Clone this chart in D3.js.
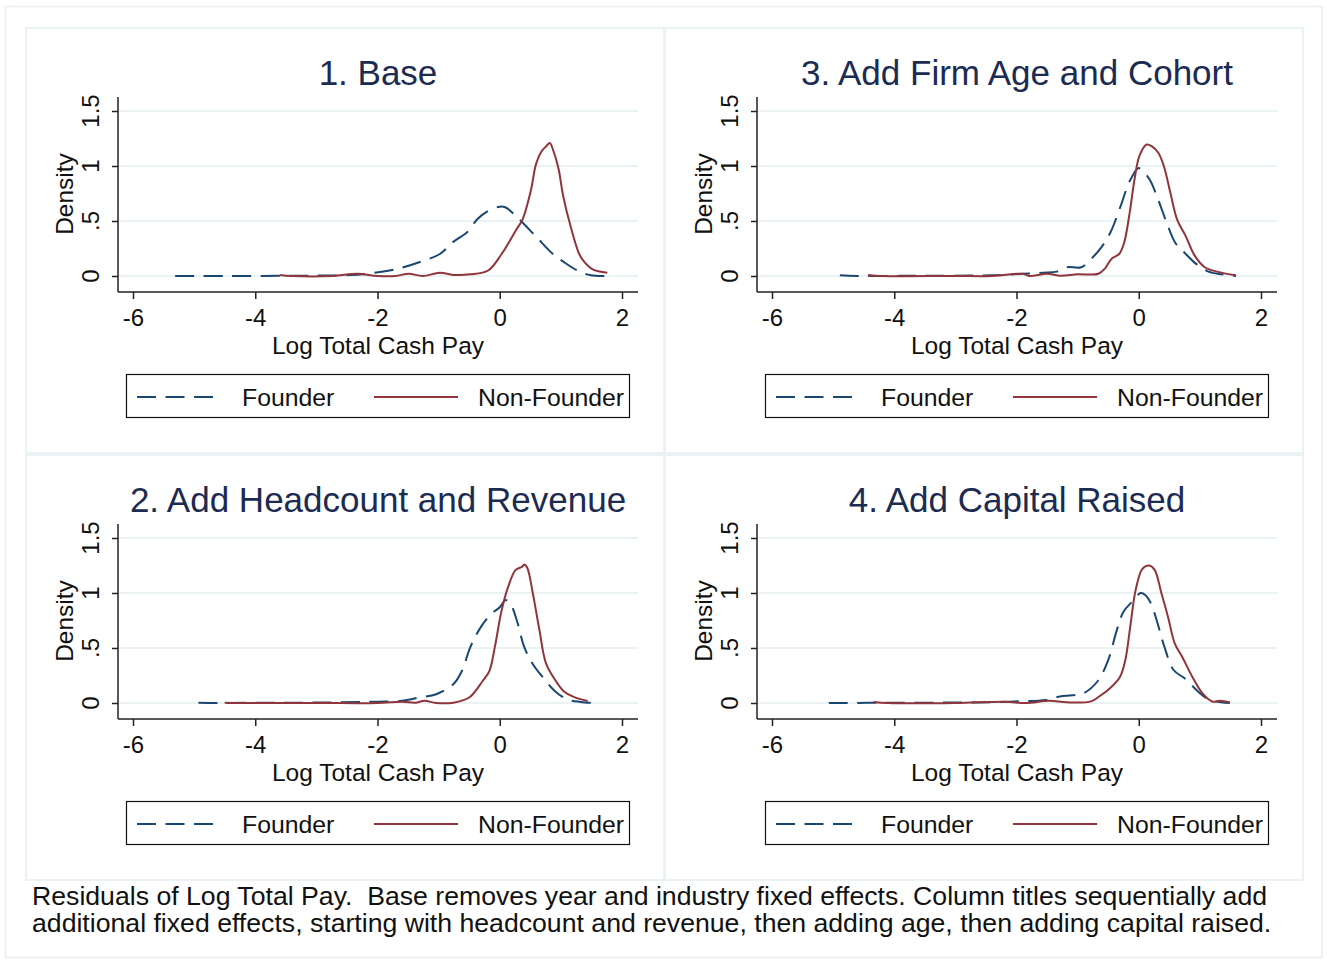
<!DOCTYPE html>
<html>
<head>
<meta charset="utf-8">
<script src="https://cdn.jsdelivr.net/npm/d3@7"></script>
<style>
  html, body { margin: 0; padding: 0; background: #ffffff; }
  svg { display: block; font-family: "Liberation Sans", Arial, Helvetica, sans-serif; }
  text { white-space: pre; }
</style>
</head>
<body>
<svg id="chart" width="1327" height="963"></svg>
<script>
// Kernel density estimates of residual log total cash pay, [x, density] pairs
const founderBase = [[-5.31,0],[-4.5,0],[-3.5,0.002],[-2.9,0.004],[-2.44,0.008],[-2.19,0.02],[-1.71,0.06],[-1.29,0.13],[-0.98,0.2],[-0.76,0.31],[-0.53,0.4],[-0.36,0.52],[-0.19,0.59],[0,0.63],[0.09,0.625],[0.31,0.52],[0.59,0.36],[0.87,0.2],[1.04,0.13],[1.27,0.05],[1.49,0.006],[1.75,0]];
const nonFounderBase = [[-3.6,0.01],[-3.4,0],[-2.73,0],[-2.33,0.02],[-2.0,0],[-1.71,0],[-1.49,0.02],[-1.26,0],[-0.98,0.03],[-0.76,0.01],[-0.48,0.015],[-0.19,0.05],[0.03,0.2],[0.28,0.43],[0.37,0.51],[0.51,0.78],[0.59,1.01],[0.68,1.13],[0.76,1.18],[0.82,1.21],[0.87,1.15],[0.96,0.98],[1.04,0.72],[1.16,0.45],[1.3,0.2],[1.38,0.13],[1.52,0.06],[1.76,0.03]];

const founderHeadcount = [[-4.93,0.003],[-4.61,0],[-4.0,0.002],[-3.0,0.004],[-1.99,0.012],[-1.6,0.02],[-1.32,0.05],[-1.04,0.08],[-0.76,0.17],[-0.62,0.29],[-0.48,0.51],[-0.31,0.69],[-0.14,0.81],[0,0.87],[0.09,0.935],[0.17,0.905],[0.28,0.75],[0.4,0.51],[0.54,0.355],[0.71,0.23],[0.9,0.11],[1.1,0.034],[1.32,0.01],[1.55,0]];
const nonFounderHeadcount = [[-4.5,0.003],[-4.24,0],[-3.0,0],[-2.0,0],[-1.6,0.012],[-1.38,0.003],[-1.23,0.02],[-1.04,0],[-0.76,0.003],[-0.5,0.05],[-0.28,0.2],[-0.17,0.29],[-0.08,0.51],[0.03,0.84],[0.14,1.06],[0.26,1.21],[0.37,1.24],[0.4,1.26],[0.45,1.23],[0.54,1.0],[0.65,0.66],[0.76,0.355],[0.93,0.19],[1.04,0.11],[1.21,0.055],[1.44,0.018]];

const founderAge = [[-4.89,0.006],[-4.6,0],[-3.5,0.003],[-2.4,0.006],[-1.9,0.02],[-1.56,0.03],[-1.34,0.04],[-1.17,0.08],[-0.94,0.08],[-0.77,0.16],[-0.6,0.27],[-0.46,0.4],[-0.3,0.63],[-0.15,0.86],[-0.01,0.98],[0.04,0.97],[0.18,0.875],[0.32,0.69],[0.46,0.48],[0.6,0.3],[0.77,0.2],[0.94,0.11],[1.14,0.04],[1.36,0.015],[1.59,0]];
const nonFounderAge = [[-4.43,0.01],[-4.21,0],[-3.0,0],[-2.4,0],[-1.9,0.02],[-1.79,0],[-1.5,0.02],[-1.28,0.003],[-1.0,0.015],[-0.66,0.02],[-0.55,0.07],[-0.44,0.16],[-0.32,0.2],[-0.24,0.3],[-0.15,0.57],[-0.07,0.875],[0.01,1.09],[0.13,1.195],[0.21,1.18],[0.32,1.12],[0.41,1.0],[0.52,0.75],[0.63,0.51],[0.77,0.36],[0.91,0.19],[1.08,0.08],[1.28,0.04],[1.59,0.006]];

const founderCapital = [[-5.07,0],[-4.0,0.002],[-3.0,0.004],[-2.42,0.006],[-1.97,0.015],[-1.52,0.027],[-1.29,0.06],[-1.09,0.07],[-0.9,0.09],[-0.67,0.2],[-0.5,0.39],[-0.36,0.66],[-0.25,0.83],[-0.11,0.92],[0.03,1.0],[0.11,0.98],[0.2,0.905],[0.31,0.72],[0.42,0.51],[0.57,0.3],[0.76,0.22],[0.96,0.11],[1.13,0.037],[1.35,0.006],[1.49,0]];
const nonFounderCapital = [[-4.34,0.01],[-4.1,0],[-3.0,0],[-2.19,0.012],[-1.85,0],[-1.46,0.02],[-1.18,0.006],[-0.78,0.015],[-0.62,0.07],[-0.48,0.13],[-0.31,0.235],[-0.22,0.39],[-0.14,0.69],[-0.05,1.03],[0.06,1.22],[0.17,1.25],[0.26,1.21],[0.37,1.0],[0.48,0.78],[0.59,0.54],[0.71,0.42],[0.88,0.235],[1.04,0.09],[1.21,0.012],[1.33,0.02],[1.49,0.006]];

const panelTitles = ["1. Base", "3. Add Firm Age and Cohort", "2. Add Headcount and Revenue", "4. Add Capital Raised"];
const founderSeries = [founderBase, founderAge, founderHeadcount, founderCapital];
const nonFounderSeries = [nonFounderBase, nonFounderAge, nonFounderHeadcount, nonFounderCapital];
const seriesNames = ["Founder", "Non-Founder"];
const xTicks = [-6, -4, -2, 0, 2];
const yTicks = [0, 0.5, 1, 1.5];
const yTickLabels = ["0", ".5", "1", "1.5"];
const xTitle = "Log Total Cash Pay";
const yTitle = "Density";
const noteLines = [
  "Residuals of Log Total Pay.  Base removes year and industry fixed effects. Column titles sequentially add",
  "additional fixed effects, starting with headcount and revenue, then adding age, then adding capital raised."
];

const navy = "#1a476f", maroon = "#90353b", grid = "#eaf2f3", titleColor = "#1c2b52";
const svg = d3.select("#chart");

// outer frame
svg.append("rect").attr("x", 5.5).attr("y", 6.5).attr("width", 1316.5).attr("height", 951)
  .attr("fill", "#fff").attr("stroke", "#e6eef0").attr("stroke-width", 1.5);

// panel offsets (column, row)
const offsets = [[0, 0], [639, 0], [0, 427], [639, 427]];

const x = d3.scaleLinear().domain([-6, 2]).range([133, 622]);
const y = d3.scaleLinear().domain([0, 1.5]).range([276, 111]);
const line = d3.line().x(d => x(d[0])).y(d => y(d[1])).curve(d3.curveCatmullRom.alpha(0.5));

offsets.forEach((off, i) => {
  const g = svg.append("g").attr("transform", `translate(${off[0]},${off[1]})`);

  g.append("rect").attr("x", 26).attr("y", 28).attr("width", 638).attr("height", 425)
    .attr("fill", "none").attr("stroke", grid).attr("stroke-width", 2);

  g.append("text").attr("x", 378).attr("y", 85).attr("text-anchor", "middle")
    .attr("font-size", 35).attr("fill", titleColor).text(panelTitles[i]);

  // horizontal gridlines
  g.selectAll(".grid").data(yTicks).join("line")
    .attr("x1", 118).attr("x2", 638)
    .attr("y1", d => y(d)).attr("y2", d => y(d))
    .attr("stroke", grid).attr("stroke-width", 2);

  // density curves
  g.append("path").datum(founderSeries[i]).attr("d", line)
    .attr("fill", "none").attr("stroke", navy).attr("stroke-width", 2)
    .attr("stroke-dasharray", "19,9.5");
  g.append("path").datum(nonFounderSeries[i]).attr("d", line)
    .attr("fill", "none").attr("stroke", maroon).attr("stroke-width", 2);

  // y axis
  const ya = g.append("g").attr("transform", "translate(118,0)")
    .call(d3.axisLeft(y).tickValues(yTicks).tickSize(6).tickFormat(""));
  ya.select(".domain").attr("d", "M0,97V292").attr("stroke", "#222").attr("stroke-width", 1.5);
  ya.selectAll(".tick line").attr("stroke", "#222").attr("stroke-width", 1.5);
  yTicks.forEach((t, k) => {
    g.append("text").attr("transform", `translate(99,${y(t)}) rotate(-90)`)
      .attr("text-anchor", "middle").attr("font-size", 24).attr("fill", "#111")
      .text(yTickLabels[k]);
  });
  g.append("text").attr("transform", "translate(73,194) rotate(-90)")
    .attr("text-anchor", "middle").attr("font-size", 24.5).attr("fill", "#111").text(yTitle);

  // x axis
  const xa = g.append("g").attr("transform", "translate(0,292)")
    .call(d3.axisBottom(x).tickValues(xTicks).tickSize(7).tickFormat(d => String(d)));
  xa.select(".domain").attr("d", "M118,0H638").attr("stroke", "#222").attr("stroke-width", 1.5);
  xa.selectAll(".tick line").attr("stroke", "#222").attr("stroke-width", 1.5);
  xa.selectAll(".tick text").attr("y", 0).attr("dy", "34px").attr("font-size", 24)
    .attr("fill", "#111").attr("font-family", "Liberation Sans, Arial, sans-serif");
  g.append("text").attr("x", 378).attr("y", 354).attr("text-anchor", "middle")
    .attr("font-size", 24.5).attr("fill", "#111").text(xTitle);

  // legend
  g.append("rect").attr("x", 126.5).attr("y", 374.5).attr("width", 503).attr("height", 43)
    .attr("fill", "#fff").attr("stroke", "#111").attr("stroke-width", 1.2);
  g.append("line").attr("x1", 137).attr("x2", 216).attr("y1", 397).attr("y2", 397)
    .attr("stroke", navy).attr("stroke-width", 2).attr("stroke-dasharray", "19,9.5");
  g.append("text").attr("x", 242).attr("y", 406).attr("font-size", 24.8).attr("fill", "#111").text(seriesNames[0]);
  g.append("line").attr("x1", 374).attr("x2", 458).attr("y1", 397).attr("y2", 397)
    .attr("stroke", maroon).attr("stroke-width", 2);
  g.append("text").attr("x", 478).attr("y", 406).attr("font-size", 24.8).attr("fill", "#111").text(seriesNames[1]);
});

// note below the panels
noteLines.forEach((t, k) => {
  svg.append("text").attr("x", 32).attr("y", 905 + k * 27)
    .attr("font-size", 26.65).attr("fill", "#111").text(t);
});
</script>
</body>
</html>
